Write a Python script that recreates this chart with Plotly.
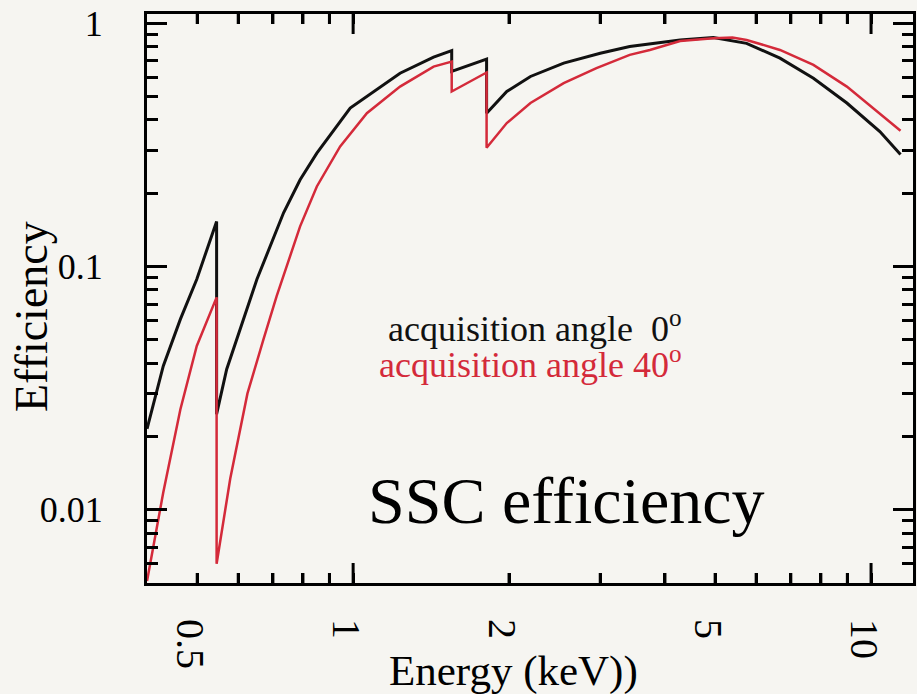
import plotly.graph_objects as go

# Detector efficiency vs photon energy, two acquisition angles
energy_0deg = [0.400, 0.430, 0.464, 0.499, 0.545, 0.545, 0.570, 0.605, 0.652, 0.734,
               0.790, 0.851, 0.987, 1.232, 1.43, 1.55, 1.55, 1.81, 1.81, 1.98,
               2.20, 2.55, 3.00, 3.42, 3.74, 4.28, 4.96, 5.75, 6.67, 7.74,
               8.98, 10.4, 11.4]
eff_0deg = [0.0215, 0.039, 0.0607, 0.0885, 0.153, 0.0247, 0.0378, 0.0552, 0.0885, 0.166,
            0.227, 0.292, 0.447, 0.622, 0.724, 0.770, 0.632, 0.710, 0.426, 0.523,
            0.603, 0.684, 0.751, 0.800, 0.820, 0.852, 0.871, 0.825, 0.717, 0.593,
            0.469, 0.358, 0.288]

energy_40deg = [0.400, 0.430, 0.464, 0.499, 0.545, 0.545, 0.579, 0.625, 0.671, 0.712,
                0.790, 0.851, 0.944, 1.063, 1.232, 1.43, 1.55, 1.55, 1.81, 1.81,
                1.98, 2.20, 2.55, 2.95, 3.42, 3.74, 4.28, 4.96, 5.40, 5.75,
                6.67, 7.74, 8.98, 10.4, 11.4]
eff_40deg = [0.0051, 0.0118, 0.0259, 0.0471, 0.0746, 0.0060, 0.0134, 0.030, 0.050, 0.0756,
             0.146, 0.213, 0.311, 0.426, 0.548, 0.662, 0.694, 0.523, 0.626, 0.307,
             0.388, 0.469, 0.566, 0.652, 0.740, 0.775, 0.843, 0.865, 0.871, 0.852,
             0.775, 0.673, 0.548, 0.426, 0.361]

x_tick_vals = [0.5, 0.6, 0.7, 0.8, 0.9, 1, 2, 3, 4, 5, 6, 7, 8, 9, 10]
x_tick_text = ["0.5", " ", " ", " ", " ", "1", "2", " ", " ", "5", " ", " ", " ", " ", "10"]
x_long_ticks = [1, 10]
x_short_ticks = [0.5, 0.6, 0.7, 0.8, 0.9, 2, 3, 4, 5, 6, 7, 8, 9]
y_tick_vals = [0.01, 0.1, 1]
y_tick_text = ["0.01", "0.1", "1"]
y_minor_ticks = [0.006, 0.007, 0.008, 0.009,
                 0.02, 0.03, 0.04, 0.05, 0.06, 0.07, 0.08, 0.09,
                 0.2, 0.3, 0.4, 0.5, 0.6, 0.7, 0.8, 0.9]

BLACK = "#111111"
RED = "#d42a3a"
BG = "#f6f5f1"
SERIF = "Liberation Serif"

L, R, T, B = 147, 4, 14, 111
W, H = 917, 694
pw, ph = W - L - R, H - T - B

def px(xp):
    return (xp - L) / pw

def py(yp):
    return (H - B - yp) / ph

x_range = [-0.398, 1.081]
y_range = [-2.301, 0.037]
decades_per_px = (y_range[1] - y_range[0]) / ph

fig = go.Figure()
fig.add_trace(go.Scatter(x=energy_0deg, y=eff_0deg, mode="lines",
                         line=dict(color=BLACK, width=3), showlegend=False))
fig.add_trace(go.Scatter(x=energy_40deg, y=eff_40deg, mode="lines",
                         line=dict(color=RED, width=2.5), showlegend=False))

# energy tick marks on the bottom and top frame edges (short everywhere, long at decades)
y_lo, y_hi = 10 ** y_range[0], 10 ** y_range[1]
tx, ty = [], []
for ticks, length in [(x_short_ticks, 10), (x_long_ticks, 20)]:
    step = 10 ** (length * decades_per_px)
    for v in ticks:
        tx += [v, v, None, v, v, None]
        ty += [y_lo, y_lo * step, None, y_hi / step, y_hi, None]
fig.add_trace(go.Scatter(x=tx, y=ty, mode="lines", connectgaps=False,
                         line=dict(color="black", width=3),
                         showlegend=False, hoverinfo="skip"))

fig.update_layout(
    width=W, height=H,
    margin=dict(l=L, r=R, t=T, b=B, pad=0),
    paper_bgcolor=BG, plot_bgcolor=BG,
    font=dict(family=SERIF, color="black"),
    xaxis=dict(
        type="log", range=x_range, showgrid=False, zeroline=False,
        showline=True, linecolor="black", linewidth=3, mirror="allticks",
        ticks="inside", ticklen=10, tickwidth=2.5, tickcolor="black",
        tickmode="array", tickvals=x_tick_vals, ticktext=x_tick_text,
        tickfont=dict(family=SERIF, size=40, color="black"),
        ticklabelstandoff=5,
        automargin=False,
    ),
    yaxis=dict(
        type="log", range=y_range, showgrid=False, zeroline=False,
        showline=True, linecolor="black", linewidth=3, mirror="allticks",
        ticks="inside", ticklen=20, tickwidth=2.5, tickcolor="black",
        tickmode="array", tickvals=y_tick_vals, ticktext=y_tick_text,
        tickfont=dict(family=SERIF, size=36, color="black"),
        ticklabelstandoff=34,
        minor=dict(ticks="inside", ticklen=11, tickwidth=2.5, tickcolor="black",
                   tickmode="array", tickvals=y_minor_ticks, showgrid=False),
        automargin=False,
    ),
)

annotations = [
    dict(text="Efficiency", x=px(31), y=py(317), textangle=-90,
         font=dict(family=SERIF, size=46, color="black")),
    dict(text="Energy (keV))", x=px(513), y=py(671),
         font=dict(family=SERIF, size=43, color="black")),
    dict(text="SSC efficiency", x=px(566), y=py(500),
         font=dict(family=SERIF, size=66, color="black")),
    dict(text="acquisition angle  0<sup>o</sup>", x=px(684), y=py(326),
         xanchor="right", font=dict(family=SERIF, size=36, color=BLACK)),
    dict(text="acquisition angle 40<sup>o</sup>", x=px(684), y=py(362),
         xanchor="right", font=dict(family=SERIF, size=36, color=RED)),
]
for a in annotations:
    a.setdefault("xanchor", "center")
    a.update(xref="paper", yref="paper", yanchor="middle", showarrow=False)
fig.update_layout(annotations=annotations)

fig.write_html("out.html")
